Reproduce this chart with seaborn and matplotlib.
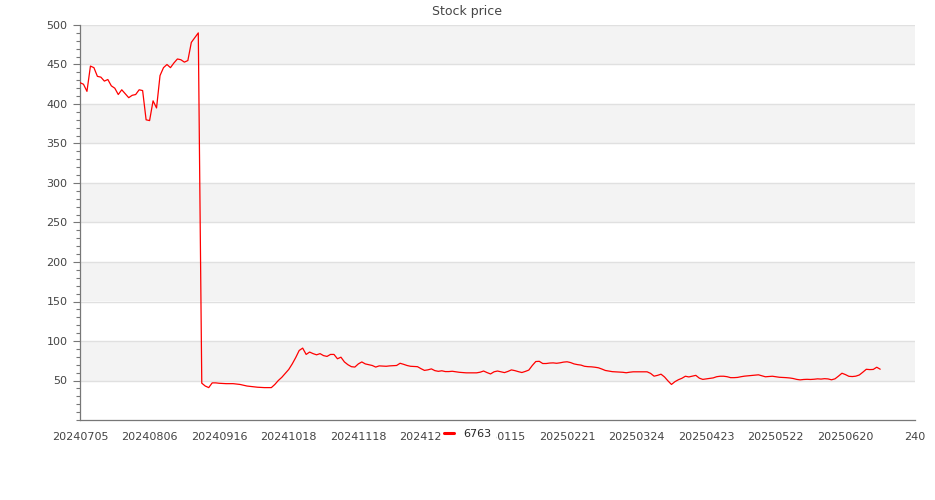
import numpy as np
import pandas as pd
import matplotlib
matplotlib.use("Agg")
import matplotlib.pyplot as plt
import seaborn as sns
from matplotlib.ticker import MultipleLocator

title = "Stock price"
series_name = "6763"
tick_labels = ["20240705", "20240806", "20240916", "20241018", "20241118",
               "20241217", "20250115", "20250221", "20250324", "20250423",
               "20250522", "20250620", "240"]
n_categories = 241
label_every = 20

prices = [
    427, 425, 416, 448, 446, 435, 434, 429, 431, 423,
    420, 412, 418, 413, 408, 411, 412, 418, 417, 380,
    379, 404, 395, 436, 446, 450, 446, 452, 457, 456,
    453, 455, 478, 484, 490, 46.6, 43, 41, 47, 47,
    46.5, 46.2, 46, 46, 46, 45.5, 45, 44, 43, 42.5,
    42, 41.5, 41.2, 41, 41, 41, 45, 50, 54, 59,
    64, 71, 79, 88, 91, 83, 86, 84, 82.5, 84,
    81.5, 80.5, 83, 83, 77.5, 79.5, 73.5, 70, 67.5, 67,
    71, 73.5, 71, 70, 69, 67, 68.5, 68.3, 68, 68.5,
    68.7, 69, 71.8, 70.5, 69, 68, 67.7, 67.5, 65, 62.8,
    63.5, 64.7, 62.5, 61.6, 62.3, 61.3, 61.3, 61.7, 61, 60.4,
    60, 59.7, 59.7, 59.7, 59.7, 60.5, 62, 60, 58.3, 61,
    62, 61, 60, 61.5, 63.4, 62.5, 61.2, 60.1, 61.5, 63.2,
    69, 74, 74.3, 71.5, 71.5, 72.1, 72.3, 71.8, 72.4, 73.3,
    73.7, 72.7, 71, 70.1, 69.5, 68, 67.5, 67.3, 66.8, 66.1,
    64.5, 62.7, 62, 61.2, 60.9, 60.7, 60.4, 59.8, 60.5, 61,
    61, 61, 61, 61, 59, 55.5, 56.5, 58, 54.5, 49.5,
    45, 48.5, 51, 52.8, 55.4, 54.5, 55.5, 56.5, 53, 51.4,
    52, 52.6, 53.3, 54.8, 55.4, 55.4, 54.8, 53.6, 53.6, 53.9,
    54.8, 55.5, 55.9, 56.3, 56.7, 57.2, 56, 54.7, 55.1, 55.4,
    54.8, 54.1, 53.9, 53.6, 53.2, 52.5, 51.4, 50.8, 51.3, 51.5,
    51.3, 51.6, 52.1, 51.8, 52.3, 52, 50.9, 52.1, 55.5, 59.2,
    57.5, 55.3, 55, 55.5, 57, 60.5, 64.2, 63.8, 64, 66.8,
    64.3,
]

y_ticks = [50, 100, 150, 200, 250, 300, 350, 400, 450, 500]

sns.set_style("white")
plt.rcParams['font.family'] = ['DejaVu Sans']

values = prices + [np.nan] * (n_categories - len(prices))
df = pd.DataFrame({"idx": np.arange(n_categories), "price": values})

fig = plt.figure(figsize=(9.35, 5.0), dpi=100)
ax = fig.add_axes([80/935, 1-420/500, 835/935, 395/500])

# alternating split areas
band_colors = ["#ffffff", "#f3f3f3"]
for j, lo in enumerate(range(0, 500, 50)):
    ax.axhspan(lo, lo + 50, color=band_colors[j % 2], zorder=0, lw=0)
for yv in y_ticks:
    ax.axhline(yv, color="#e0e0e0", lw=1, zorder=1)

sns.lineplot(data=df, x="idx", y="price", color="#ff0000", lw=0.9,
             ax=ax, label=series_name, legend=False, zorder=3)

ax.set_xlim(0, n_categories - 1)
ax.set_ylim(0, 500)
ax.set_xlabel("")
ax.set_ylabel("")

ax.set_xticks(np.arange(0, n_categories, label_every))
ax.set_xticklabels(tick_labels)
ax.set_yticks(y_ticks)
ax.yaxis.set_minor_locator(MultipleLocator(10))
ax.tick_params(axis="x", length=0, pad=9, labelsize=8, labelcolor="#444444")
ax.tick_params(axis="y", which="major", length=5, width=0.8, color="#777777",
               pad=4, labelsize=8, labelcolor="#444444", left=True)
ax.tick_params(axis="y", which="minor", length=3, width=0.8, color="#777777", left=True)

for s in ["top", "right"]:
    ax.spines[s].set_visible(False)
for s in ["left", "bottom"]:
    ax.spines[s].set_color("#777777")
    ax.spines[s].set_linewidth(0.9)

fig.suptitle(title, x=0.5, y=1 - 12/500, va="center", fontsize=9, color="#464646")

handles, labels = ax.get_legend_handles_labels()
leg = fig.legend(handles, labels, loc="center", bbox_to_anchor=(468/935, 1 - 434/500),
                 frameon=True, facecolor="white", edgecolor="white", framealpha=1,
                 fontsize=8, handlelength=0.9, handletextpad=0.8, borderpad=0.3,
                 fancybox=False)
for line in leg.get_lines():
    line.set_linewidth(2.2)

fig.savefig("out.png", dpi=100)
